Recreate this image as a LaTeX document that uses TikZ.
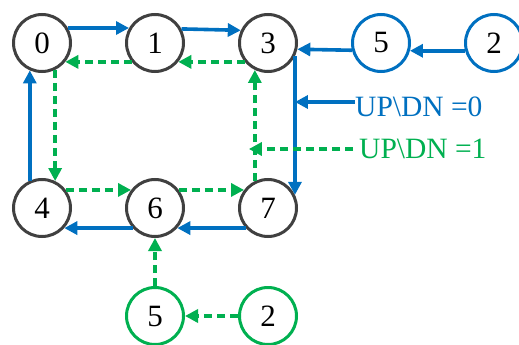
\documentclass[tikz,border=0pt]{standalone}
\usepackage{fontspec}
\setmainfont{Liberation Serif}
\usetikzlibrary{arrows.meta}
\definecolor{myblue}{HTML}{0070C0}
\definecolor{mygreen}{HTML}{00B050}
\definecolor{mygray}{HTML}{404040}
\tikzset{
  state/.style={circle, draw=mygray, line width=3pt, minimum size=57pt, inner sep=0pt, font=\fontsize{31}{31}\selectfont},
  bstate/.style={state, draw=myblue},
  gstate/.style={state, draw=mygreen},
  barrow/.style={draw=myblue, line width=3.6pt, -{Triangle[length=13pt,width=13pt]}, fill=myblue},
  garrow/.style={draw=mygreen, line width=3.6pt, dash pattern=on 8pt off 5pt, -{Triangle[length=13pt,width=13pt,fill=mygreen]}},
  lbl/.style={font=\fontsize{29.5}{30}\selectfont, inner sep=0pt, anchor=west}
}
\begin{document}
\begin{tikzpicture}[x=1pt,y=-1pt]
\useasboundingbox (0,0) rectangle (519,345);
\node[state] (n0) at (42,43) {0};
\node[state] (n1) at (155,43) {1};
\node[state] (n3) at (268,43) {3};
\node[bstate] (n5b) at (381,43) {5};
\node[bstate] (n2b) at (494,43) {2};
\node[state] (n4) at (42,208) {4};
\node[state] (n6) at (155,208) {6};
\node[state] (n7) at (268,208) {7};
\node[gstate] (n5g) at (155,316) {5};
\node[gstate] (n2g) at (268,316) {2};
\node[lbl, text=myblue] (l0) at (355,107) {UP\textbackslash DN =0};
\node[lbl, text=mygreen] (l1) at (359,149) {UP\textbackslash DN =1};
% blue arrows
\draw[barrow] (n0.30) -- (n1.150);
\draw[barrow] (n1.28) -- (n3.155);
\draw[barrow] (n3.-26) -- (n7.26);
\draw[barrow] (n7.-138) -- (n6.-42);
\draw[barrow] (n6.-138) -- (n4.-42);
\draw[barrow] (n4.114) -- (n0.-114);
\draw[barrow] (n5b.194) -- (n3.-12);
\draw[barrow] (n2b.195) -- (n5b.-15);
\draw[barrow] ([yshift=5pt]l0.west) -- ([yshift=5pt]l0.west -| n3.-26);
% green arrows
\draw[garrow] (n3.-141) -- (n1.-39);
\draw[garrow] (n1.-141) -- (n0.-39);
\draw[garrow] (n0.-64) -- (n4.64);
\draw[garrow] (n4.37) -- (n6.143);
\draw[garrow] (n6.37) -- (n7.143);
\draw[garrow] (n7.116) -- (n3.-116);
\draw[garrow] (n5g.90) -- (n6.-90);
\draw[garrow] (n2g.180) -- (n5g.0);
\draw[garrow] ([xshift=-6pt]l1.west) -- ([xshift=-6pt]l1.west -| n7.116);
\end{tikzpicture}
\end{document}
